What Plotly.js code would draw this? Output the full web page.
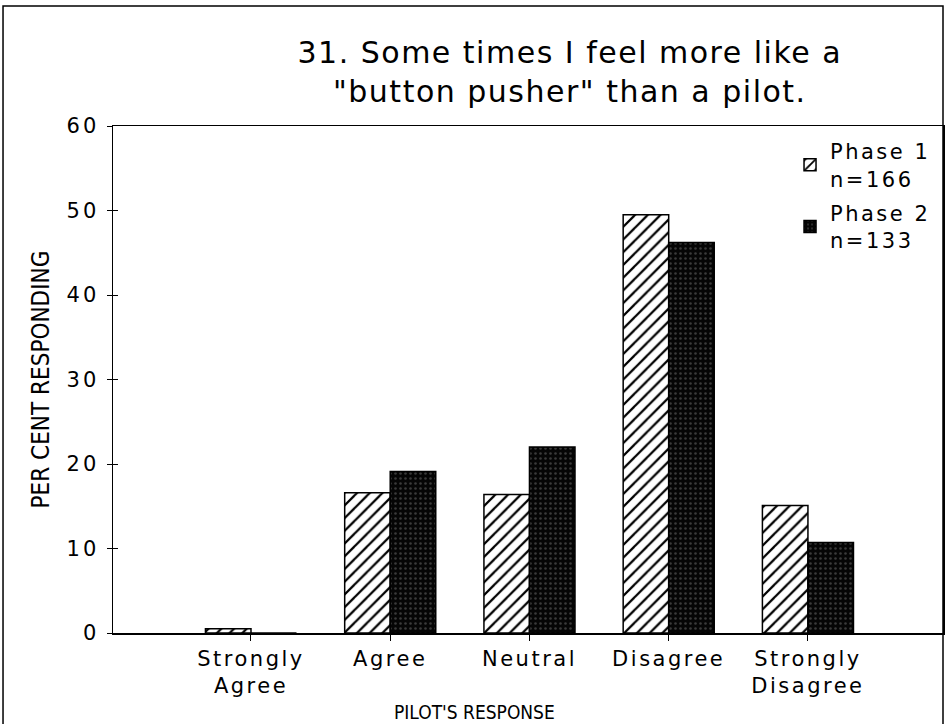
<!DOCTYPE html>
<html>
<head>
<meta charset="utf-8">
<script src="https://cdn.plot.ly/plotly-3.0.1.min.js"></script>
<style>
html,body{margin:0;padding:0;background:#fff;}
#chart{width:945px;height:724px;}
.gtitle { letter-spacing: 1.5px; }
.xtick text { letter-spacing: 2.5px; }
.ytick text { letter-spacing: 3px; }
.legendtext { letter-spacing: 2.5px; }
</style>
</head>
<body>
<div id="chart"></div>
<script>
var categories = ["Strongly<br>Agree", "Agree", "Neutral", "Disagree", "Strongly<br>Disagree"];
var phase1 = [0.5, 16.6, 16.4, 49.5, 15.1];
var phase2 = [0, 19.1, 22.0, 46.2, 10.7];
var seriesNames = ["Phase 1<br>n=166", "Phase 2<br>n=133"];
var yTicks = [0, 10, 20, 30, 40, 50, 60];

var FONT = "DejaVu Sans, Liberation Sans, Arial, sans-serif";
var NARROW = "DejaVu Sans Condensed, Liberation Sans Narrow, Arial Narrow, sans-serif";

var traces = [
  {
    type: "bar", x: categories, y: phase1, name: seriesNames[0], legendgroup: "p1",
    marker: {
      color: "#ffffff",
      line: {color: "#000", width: 1.5},
      pattern: {shape: "/", fgcolor: "#000", bgcolor: "#fff", size: 9, solidity: 0.25}
    }
  },
  {
    type: "bar", x: categories, y: phase2, name: seriesNames[1], legendgroup: "p2",
    marker: {
      color: "#050505",
      line: {color: "#000", width: 1.5},
      pattern: {shape: ".", fgcolor: "#3a3a3a", bgcolor: "#050505", size: 5, solidity: 0.2}
    }
  }
];

var layout = {
  width: 945, height: 724,
  margin: {l: 113, r: 2, t: 126, b: 91},
  paper_bgcolor: "#fff", plot_bgcolor: "#fff",
  barmode: "group", bargap: 0.346, bargroupgap: 0,
  showlegend: true,
  font: {family: FONT, color: "#000", size: 17},
  title: {
    text: "31. Some times I feel more like a<br>\"button pusher\" than a pilot.",
    font: {family: FONT, size: 30, color: "#000"},
    x: 0.603, xanchor: "center", y: 0.913, yanchor: "top"
  },
  xaxis: {
    type: "category", range: [-0.991, 4.97],
    showline: true, linecolor: "#000", linewidth: 1.5, mirror: true,
    ticks: "outside", ticklen: 6, tickcolor: "#000", tickwidth: 1,
    showgrid: false, zeroline: false,
    tickfont: {family: FONT, size: 21}
  },
  yaxis: {
    range: [0, 60], tickvals: yTicks, ticktext: yTicks.map(String),
    showline: true, linecolor: "#000", linewidth: 1.5, mirror: true,
    ticks: "outside", ticklen: 5, tickcolor: "#000", tickwidth: 1,
    ticklabelstandoff: 3,
    showgrid: false, zeroline: false,
    tickfont: {family: FONT, size: 21},
    title: {text: "PER CENT RESPONDING", font: {family: NARROW, size: 24}, standoff: 10}
  },
  yaxis2: {
    overlaying: "y", range: [0, 60], tickvals: yTicks, showticklabels: false,
    ticks: "inside", ticklen: 5, tickcolor: "#000", showgrid: false, zeroline: false, showline: false
  },
  legend: {
    x: 0.8157, y: 0.99, xanchor: "left", yanchor: "top",
    bgcolor: "rgba(0,0,0,0)", font: {family: FONT, size: 21},
    tracegroupgap: 4, itemwidth: 30
  },
  annotations: [
    {text: "PILOT'S RESPONSE", xref: "paper", yref: "paper", x: (474 - 113) / 830, y: -0.155,
     xanchor: "center", yanchor: "middle", showarrow: false, font: {family: NARROW, size: 19, color: "#000"}}
  ],
  shapes: [
    {type: "rect", xref: "paper", yref: "paper", x0: -0.1325, x1: 1.0, y0: -0.3, y1: 1.2367,
     line: {color: "#000", width: 1.5}, fillcolor: "rgba(0,0,0,0)", layer: "below"}
  ]
};

traces.push({type: "scatter", x: [categories[0]], y: [0], yaxis: "y2", mode: "markers",
  marker: {opacity: 0}, showlegend: false, hoverinfo: "skip"});

Plotly.newPlot("chart", traces, layout, {displayModeBar: false, staticPlot: true});
</script>
</body>
</html>
